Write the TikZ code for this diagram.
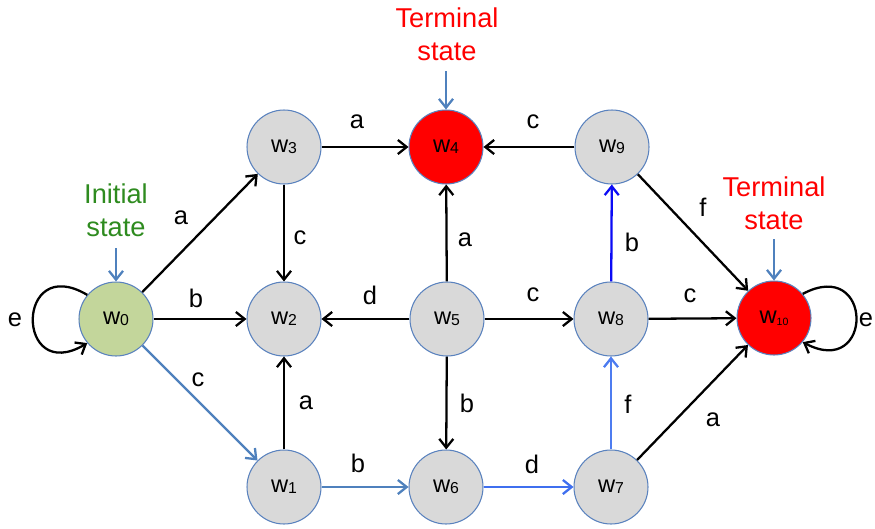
\documentclass[tikz,border=0pt]{standalone}
\usepackage{fontspec}
\setmainfont{Liberation Sans}
\usetikzlibrary{arrows.meta}
\definecolor{nodegrey}{HTML}{D9D9D9}
\definecolor{nodeborder}{HTML}{5A82BE}
\definecolor{initgreen}{HTML}{C3D69B}
\definecolor{steel}{HTML}{4F81BD}
\definecolor{dblue}{HTML}{3F6FEF}
\definecolor{fblue}{HTML}{4D7CF0}
\definecolor{bblue}{HTML}{0B0BF5}
\definecolor{textgreen}{HTML}{2E8B1F}
\tikzset{
  state/.style={circle, draw=nodeborder, line width=0.6pt, fill=nodegrey,
    minimum size=1.48cm, inner sep=0pt, font=\fontsize{13.5}{15}\selectfont},
  arr/.style={-{Straight Barb[length=5pt,width=8pt,line width=1.3pt]}, line width=1.3pt, black},
  lab/.style={font=\fontsize{14.5}{17}\selectfont, inner sep=0pt},
  annot/.style={font=\fontsize{15.5}{19}\selectfont, align=center, inner sep=0pt}
}
\newcommand{\wsub}[1]{w\raisebox{-0.5pt}{\fontsize{9}{10}\selectfont #1}}
\begin{document}
\begin{tikzpicture}[x=0.02cm,y=-0.02cm]
\useasboundingbox (0,0) rectangle (875,528);
% nodes
\node[state, fill=initgreen] (w0) at (116,319) {\wsub{0}};
\node[state] (w3) at (284,147) {\wsub{3}};
\node[state, fill=red] (w4) at (446,147) {\wsub{4}};
\node[state] (w9) at (612,147) {\wsub{9}};
\node[state] (w2) at (284,319) {\wsub{2}};
\node[state] (w5) at (447,319) {\wsub{5}};
\node[state] (w8) at (611,319) {\wsub{8}};
\node[state, fill=red] (w10) at (774,318) {w\raisebox{-1pt}{\fontsize{6}{7}\selectfont 10}};
\node[state] (w1) at (284,487) {\wsub{1}};
\node[state] (w6) at (446,487) {\wsub{6}};
\node[state] (w7) at (611,487) {\wsub{7}};
% edges
\draw[arr] (w0) -- (w3);
\draw[arr] (w0) -- (w2);
\draw[arr, steel] (w0) -- (w1);
\draw[arr] (w0.140) .. controls (15,252) and (15,386) .. (w0.220);
\draw[arr] (w3) -- (w4);
\draw[arr] (w3) -- (w2);
\draw[arr] (w1) -- (w2);
\draw[arr, steel] (w1) -- (w6);
\draw[arr, dblue] (w6) -- (w7);
\draw[arr] (w5) -- (w2);
\draw[arr] (w5) -- (w4);
\draw[arr] (w5) -- (w8);
\draw[arr] (w5) -- (w6);
\draw[arr, fblue] (w7) -- (w8);
\draw[arr, bblue] (w8) -- (w9);
\draw[arr] (w9) -- (w4);
\draw[arr] (w9) -- (w10);
\draw[arr] (w8) -- (w10);
\draw[arr] (w7) -- (w10);
\draw[arr] (w10.40) .. controls (874,256) and (874,380) .. (w10.-40);
% edge labels
\node[lab] (l1) at (181,218) {a};
\node[lab] (l2) at (196,298) {b};
\node[lab] (l3) at (198,380) {c};
\node[lab] (l4) at (15,320) {e};
\node[lab] (l5) at (357,122) {a};
\node[lab] (l6) at (300,238) {c};
\node[lab] (l7) at (306,403) {a};
\node[lab] (l8) at (358,463) {b};
\node[lab] (l9) at (532,464) {d};
\node[lab] (l10) at (370,295) {d};
\node[lab] (l11) at (465,240) {a};
\node[lab] (l12) at (533,295) {c};
\node[lab] (l13) at (467,403) {b};
\node[lab] (l14) at (628,404) {f};
\node[lab] (l15) at (632,242) {b};
\node[lab] (l16) at (533,122) {c};
\node[lab] (l17) at (703,207) {f};
\node[lab] (l18) at (690,296) {c};
\node[lab] (l19) at (713,420) {a};
\node[lab] (l20) at (866,320) {e};
% annotations
\node[annot, text=textgreen] (tinit) at (116,210) {Initial\\state};
\node[annot, text=red] (tterm1) at (447,34) {Terminal\\state};
\node[annot, text=red] (tterm2) at (774,203) {Terminal\\state};
\coordinate (ai) at (116,248);
\coordinate (at1) at (446,71);
\coordinate (at2) at (774,239);
\draw[arr, steel, line width=1.6pt] (ai) -- (w0);
\draw[arr, steel, line width=1.6pt] (at1) -- (w4);
\draw[arr, steel, line width=1.6pt] (at2) -- (w10);
\end{tikzpicture}
\end{document}
